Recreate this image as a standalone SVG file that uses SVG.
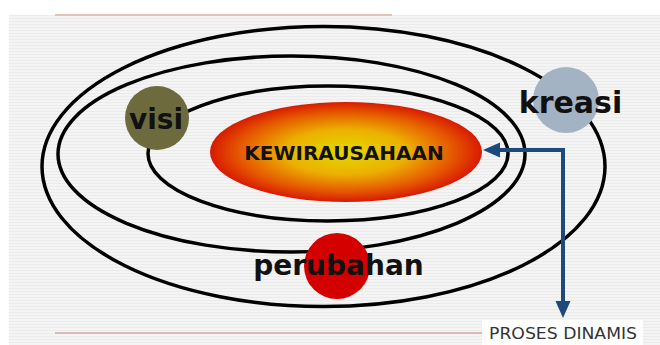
<svg xmlns="http://www.w3.org/2000/svg" width="660" height="345" viewBox="0 0 660 345">
  <style>
    .ring { fill: none; stroke: #000; stroke-width: 3.5; }
    .lbl { font-family: "DejaVu Sans", Verdana, sans-serif; font-weight: bold; fill: #111; text-anchor: middle; }
    .conn { fill: none; stroke: #1c4a7c; stroke-width: 4; }
  </style>
  <defs>
    <pattern id="stripes" width="6" height="3" patternUnits="userSpaceOnUse">
      <rect width="6" height="3" fill="#f4f4f4"/>
      <rect width="6" height="1" fill="#ebebeb"/>
    </pattern>
    <radialGradient id="core" cx="50%" cy="50%" r="50%">
      <stop offset="0" stop-color="#e2da00"/>
      <stop offset="0.45" stop-color="#ecb000"/>
      <stop offset="0.78" stop-color="#e65a00"/>
      <stop offset="1" stop-color="#d81a00"/>
    </radialGradient>
    <marker id="head" markerUnits="userSpaceOnUse" markerWidth="18" markerHeight="16" refX="0" refY="7.5" orient="auto-start-reverse">
      <path d="M0,0 L17,7.5 L0,15 z" fill="#1c4a7c"/>
    </marker>
  </defs>

  <rect x="0" y="0" width="660" height="345" fill="#fff"/>
  <rect x="9" y="15" width="651" height="330" fill="url(#stripes)"/>
  <line x1="55" y1="15" x2="392" y2="15" stroke="#e6c2bc" stroke-width="2"/>
  <line x1="55" y1="333" x2="482" y2="333" stroke="#d2a6a6" stroke-width="1.5"/>

  <g id="rings">
    <ellipse class="ring" cx="323.5" cy="166.5" rx="281.5" ry="140"/>
    <ellipse class="ring" cx="291.5" cy="154" rx="233.5" ry="98"/>
    <ellipse class="ring" cx="328" cy="153.5" rx="180" ry="67.5"/>
  </g>

  <g id="kewirausahaan">
    <ellipse cx="346" cy="152" rx="136" ry="50" fill="url(#core)"/>
    <text class="lbl" x="344" y="160" font-size="20">KEWIRAUSAHAAN</text>
  </g>

  <g id="visi">
    <circle cx="157" cy="118" r="32" fill="#6d6a3e"/>
    <text class="lbl" x="156" y="129" font-size="28">visi</text>
  </g>

  <g id="kreasi">
    <circle cx="566" cy="100" r="33" fill="#a4b3c3"/>
    <text class="lbl" x="570.5" y="113" font-size="30">kreasi</text>
  </g>

  <g id="perubahan">
    <circle cx="337" cy="266" r="33" fill="#d40000"/>
    <text class="lbl" x="338.5" y="275" font-size="28">perubahan</text>
  </g>

  <g id="connectors">
    <polyline class="conn" points="500,150 563,150 563,301" marker-start="url(#head)" marker-end="url(#head)"/>
  </g>

  <g id="proses-dinamis">
    <rect x="482" y="320" width="161" height="25" fill="#fff"/>
    <text x="489" y="339" font-family="DejaVu Sans, Verdana, sans-serif" font-size="16.5" fill="#333" textLength="148" lengthAdjust="spacingAndGlyphs">PROSES DINAMIS</text>
  </g>
</svg>
